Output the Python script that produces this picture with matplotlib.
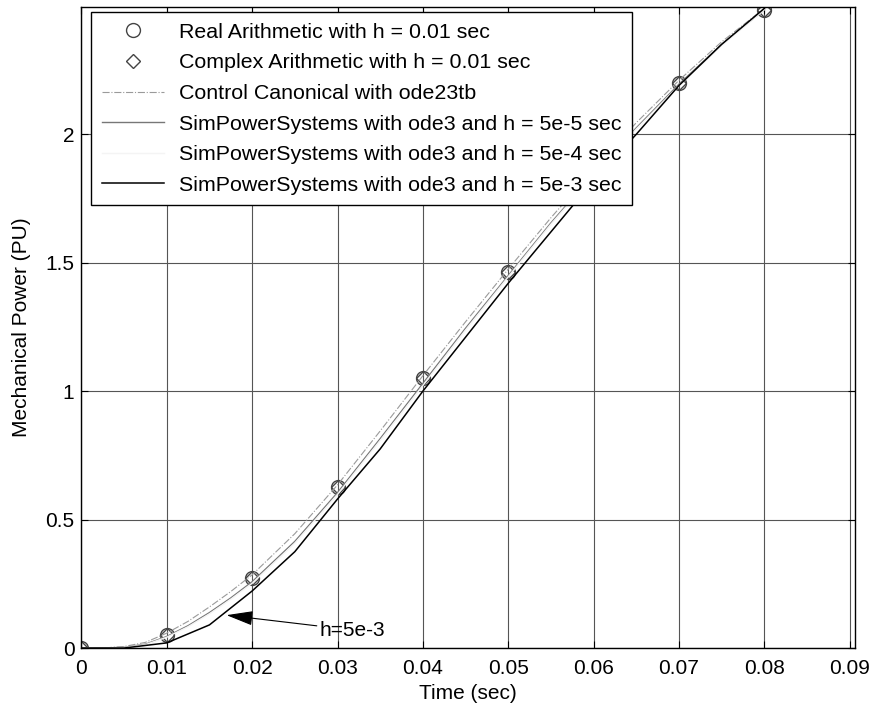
import matplotlib.pyplot as plt
import numpy as np

plt.rcParams['font.family'] = ['Liberation Sans', 'DejaVu Sans']
plt.rcParams['font.size'] = 15

# sampled step results (0.01 s)
t_step = [0, 0.01, 0.02, 0.03, 0.04, 0.05, 0.06, 0.07, 0.08]
p_real = [0, 0.05, 0.273, 0.625, 1.05, 1.465, 1.85, 2.2, 2.485]
p_complex = [0, 0.05, 0.273, 0.625, 1.05, 1.465, 1.85, 2.2, 2.485]

# continuous solvers
t_fine = [0, 0.0025, 0.005, 0.0075, 0.01, 0.0125, 0.015, 0.0175, 0.02, 0.025,
          0.03, 0.035, 0.04, 0.045, 0.05, 0.055, 0.06, 0.065, 0.07, 0.075, 0.08]
p_ode23tb = [0, 0.0, 0.006, 0.022, 0.058, 0.104, 0.16, 0.22, 0.285, 0.445,
             0.635, 0.845, 1.06, 1.27, 1.475, 1.675, 1.865, 2.045, 2.21, 2.36, 2.49]
p_sps_5e5 = [0, 0.0, 0.003, 0.015, 0.045, 0.087, 0.138, 0.195, 0.258, 0.415,
             0.605, 0.815, 1.03, 1.245, 1.45, 1.655, 1.845, 2.025, 2.195, 2.35, 2.485]
p_sps_5e4 = [0, 0.0, 0.002, 0.013, 0.042, 0.083, 0.133, 0.19, 0.252, 0.408,
             0.598, 0.808, 1.022, 1.238, 1.445, 1.65, 1.84, 2.02, 2.19, 2.345, 2.485]

# coarse step SimPowerSystems run
t_coarse = [0, 0.005, 0.01, 0.015, 0.02, 0.025, 0.03, 0.035, 0.04, 0.045,
            0.05, 0.055, 0.06, 0.065, 0.07, 0.075, 0.08]
p_sps_5e3 = [0, 0.0, 0.02, 0.09, 0.222, 0.375, 0.58, 0.775, 1.0, 1.21,
             1.42, 1.62, 1.82, 2.0, 2.19, 2.35, 2.49]

labels = ['Real Arithmetic with h = 0.01 sec',
          'Complex Arithmetic with h = 0.01 sec',
          'Control Canonical with ode23tb',
          'SimPowerSystems with ode3 and h = 5e-5 sec',
          'SimPowerSystems with ode3 and h = 5e-4 sec',
          'SimPowerSystems with ode3 and h = 5e-3 sec']

fig = plt.figure(figsize=(8.75, 7.09), dpi=100)
ax = fig.add_axes([0.093, 0.086, 0.884, 0.904])

ax.plot(t_step, p_real, 'o', mfc='none', mec='#444444', ms=10, mew=1.0,
        label=labels[0])
ax.plot(t_step, p_complex, 'D', mfc='none', mec='#444444', ms=7, mew=1.0,
        label=labels[1])
ax.plot(t_fine, p_ode23tb, '-.', color='#9a9a9a', lw=0.8, label=labels[2])
ax.plot(t_fine, p_sps_5e5, '-', color='#777777', lw=1.0, label=labels[3])
ax.plot(t_fine, p_sps_5e4, '-', color='#f4f4f4', lw=1.0, label=labels[4])
ax.plot(t_coarse, p_sps_5e3, '-', color='black', lw=1.1, label=labels[5])

ax.annotate('h=5e-3', xy=(0.0170, 0.128), xytext=(0.0279, 0.07),
            ha='left', va='center', fontsize=15,
            arrowprops=dict(arrowstyle='-|>,head_length=1.1,head_width=0.3',
                            color='black', lw=0.8, shrinkA=0, shrinkB=0))

ax.set_xlim(0, 0.0906)
ax.set_ylim(0, 2.495)
ax.set_xticks(np.arange(0, 0.091, 0.01))
ax.set_xticklabels(['0', '0.01', '0.02', '0.03', '0.04', '0.05', '0.06',
                    '0.07', '0.08', '0.09'])
ax.set_yticks([0, 0.5, 1, 1.5, 2])
ax.set_yticklabels(['0', '0.5', '1', '1.5', '2'])
ax.grid(True, color='#555555', lw=0.8)
ax.tick_params(direction='in', top=True, right=True, length=5)
ax.tick_params(axis='x', pad=8)
ax.tick_params(axis='y', pad=5)
for s in ax.spines.values():
    s.set_linewidth(1.0)

ax.set_xlabel('Time (sec)', labelpad=4)
ax.set_ylabel('Mechanical Power (PU)', labelpad=10)

leg = ax.legend(loc='upper left', bbox_to_anchor=(0.013, 0.992),
                frameon=True, fancybox=False, edgecolor='black',
                framealpha=1, fontsize=15.4, borderpad=0.5, labelspacing=0.54,
                handlelength=2.9, handletextpad=0.7, borderaxespad=0)
leg.get_frame().set_linewidth(1.0)

fig.savefig('out.png', dpi=100)
